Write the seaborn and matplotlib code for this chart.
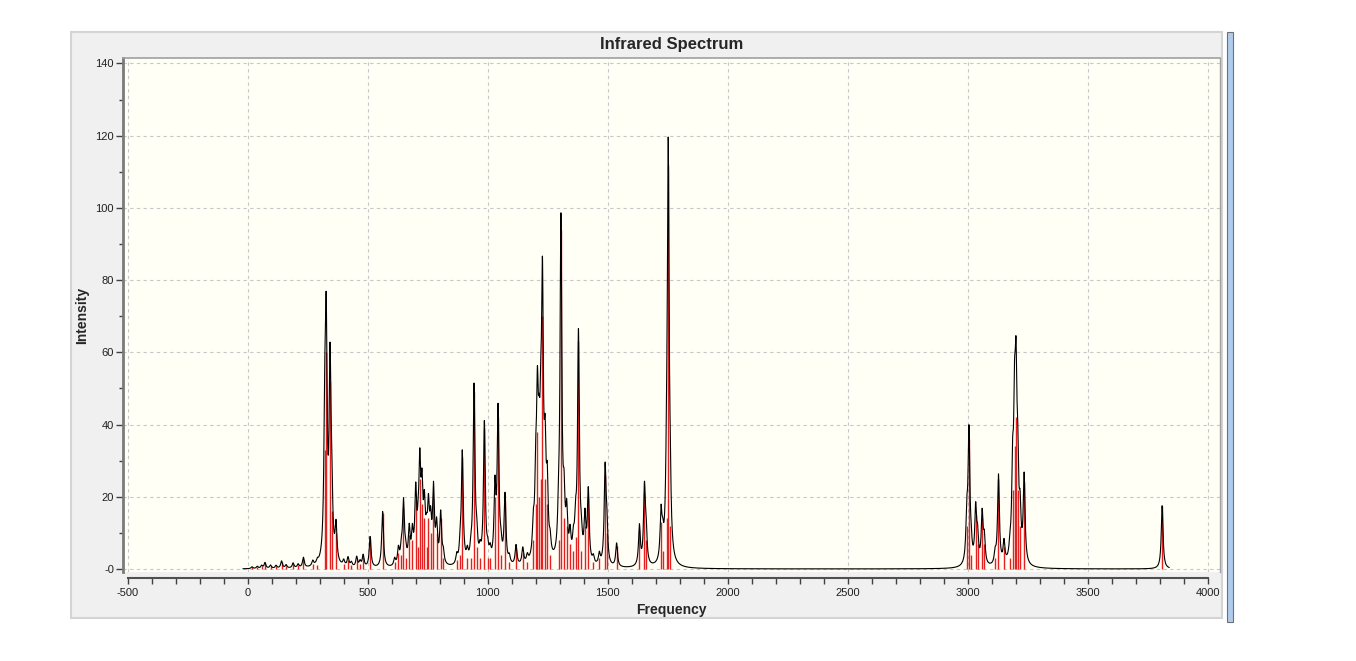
import numpy as np
import pandas as pd
import seaborn as sns
import matplotlib.pyplot as plt
from matplotlib.patches import Rectangle
from matplotlib.ticker import MultipleLocator

# stick spectrum: frequency (cm-1) and intensity
freqs = [18, 40, 58, 72, 95, 118, 141, 160, 189, 210, 232, 271, 290,
         321, 327, 343, 350, 368,
         400, 418, 432, 454, 468, 481, 510, 562, 612, 628,
         640, 649, 658, 673, 686, 700, 710, 717, 726, 736, 745, 753, 762,
         774, 787, 804, 815,
         871, 885, 894, 915, 930, 943, 954, 968, 986, 1000, 1010, 1030,
         1043, 1055, 1072, 1090, 1118, 1146, 1165,
         1190, 1200, 1207, 1214, 1221, 1228, 1239, 1248, 1260,
         1295, 1305, 1318, 1329, 1343, 1357, 1366, 1378, 1390, 1405, 1419,
         1440, 1465,
         1489, 1496, 1537,
         1632, 1653, 1660, 1722, 1729, 1745, 1752, 1760,
         2996, 3005, 3014, 3033, 3041, 3060, 3069, 3114, 3128, 3151, 3176,
         3187, 3195, 3201, 3208, 3218, 3235,
         3810]
intens = [0.5, 0.6, 0.8, 1.6, 0.9, 0.8, 2.0, 0.9, 1.4, 1.0, 2.8, 1.4, 1.0,
          33, 60, 52, 16, 10,
          1.5, 2.5, 1.2, 2.8, 1.5, 3.3, 8.5, 15.5, 2, 4.5,
          4, 17, 3, 9.5, 8, 19, 6, 25, 18, 14, 6, 14, 10,
          20, 10, 14, 3,
          2.5, 4, 31, 3, 3, 49, 6, 3, 39, 3, 3, 20,
          42, 4, 19, 2, 5.5, 4.5, 2,
          8, 18, 38, 20, 25, 70, 25, 18, 4,
          8, 94, 14, 12, 7, 5, 9, 63, 5, 12, 20,
          2, 3,
          26, 10, 6.5,
          11, 21, 8, 13, 5, 14, 112, 12,
          12, 36, 4, 15, 7, 14, 7, 3, 25, 6, 3,
          22, 34, 42, 22, 12, 24,
          17.5]
hwhm = 4.5  # half width at half height of the broadening

x_ticks = [-500, 0, 500, 1000, 1500, 2000, 2500, 3000, 3500, 4000]
y_ticks = [0, 20, 40, 60, 80, 100, 120, 140]
y_labels = ['-0', '20', '40', '60', '80', '100', '120', '140']

# Lorentzian broadening of the sticks, the way GaussView draws the curve
grid = np.arange(-20, 3840, 0.5)
pos = np.array(freqs)[:, None]
amp = np.array(intens)[:, None]
curve = (amp / (1 + ((grid - pos) / hwhm) ** 2)).sum(axis=0)
spec = pd.DataFrame({'Frequency': grid, 'Intensity': curve})

sns.set_theme(style='white')
plt.rcParams['font.family'] = ['Liberation Sans', 'DejaVu Sans']

fig = plt.figure(figsize=(13.56, 6.61), dpi=100)
fig.patch.set_facecolor('white')

# grey window panel behind the plot
fig.patches.append(Rectangle((71 / 1356, 43 / 661), 1151 / 1356, 586 / 661,
                             transform=fig.transFigure, facecolor='#F0F0F0',
                             edgecolor='#D4D4D4', lw=1.5, zorder=-2))
# window scroll bar at the right
fig.patches.append(Rectangle((1227 / 1356, 39 / 661), 6 / 1356, 590 / 661,
                             transform=fig.transFigure, facecolor='#B0CCEC',
                             edgecolor='#707070', lw=0.8, zorder=-2))

ax = fig.add_axes([123 / 1356, 89 / 661, 1097 / 1356, 514 / 661])
ax.set_facecolor('#FFFFF6')

ax.vlines(freqs, 0, intens, color='#E42020', lw=1.0, zorder=2)
sns.lineplot(data=spec, x='Frequency', y='Intensity', ax=ax, color='black',
             lw=0.8, estimator=None, zorder=3)

ax.set_xlim(-519.6, 4051)
ax.set_ylim(-0.83, 141.5)
ax.set_xticks(x_ticks)
ax.set_xticklabels([str(t) for t in x_ticks])
ax.set_yticks(y_ticks)
ax.set_yticklabels(y_labels)
ax.xaxis.set_minor_locator(MultipleLocator(100))
ax.yaxis.set_minor_locator(MultipleLocator(10))

ax.grid(True, which='major', color='#C8C8C8', lw=0.8, ls=(0, (3, 3)))
ax.set_axisbelow(True)

ax.spines['bottom'].set_position(('outward', 4))
ax.spines['bottom'].set_bounds(-500, 4000)
ax.spines['bottom'].set_color('#505050')
ax.spines['bottom'].set_linewidth(1.5)
ax.spines['left'].set_color('#7A7A7A')
ax.spines['left'].set_linewidth(2)
ax.spines['top'].set_color('#A0A0A0')
ax.spines['top'].set_linewidth(1.2)
ax.spines['right'].set_color('#A0A0A0')
ax.spines['right'].set_linewidth(1)

ax.tick_params(axis='x', which='major', direction='out', length=4, width=1,
               color='#404040', labelsize=8, labelcolor='#202020', pad=3.5,
               bottom=True)
ax.tick_params(axis='x', which='minor', direction='out', length=4, width=1,
               color='#404040', bottom=True)
ax.tick_params(axis='y', which='major', direction='out', length=5, width=1,
               color='#404040', labelsize=8, labelcolor='#202020', pad=1.5,
               left=True)
ax.tick_params(axis='y', which='minor', direction='out', length=3, width=1,
               color='#404040', left=True)

ax.set_title('Infrared Spectrum', fontsize=12, fontweight='bold', pad=6.5)
ax.set_xlabel('Frequency', fontsize=10, fontweight='bold')
ax.set_ylabel('Intensity', fontsize=10, fontweight='bold')
ax.xaxis.set_label_coords(0.5, -0.060)
ax.yaxis.set_label_coords(-0.031, 0.5)

fig.savefig('out.png', dpi=100)
